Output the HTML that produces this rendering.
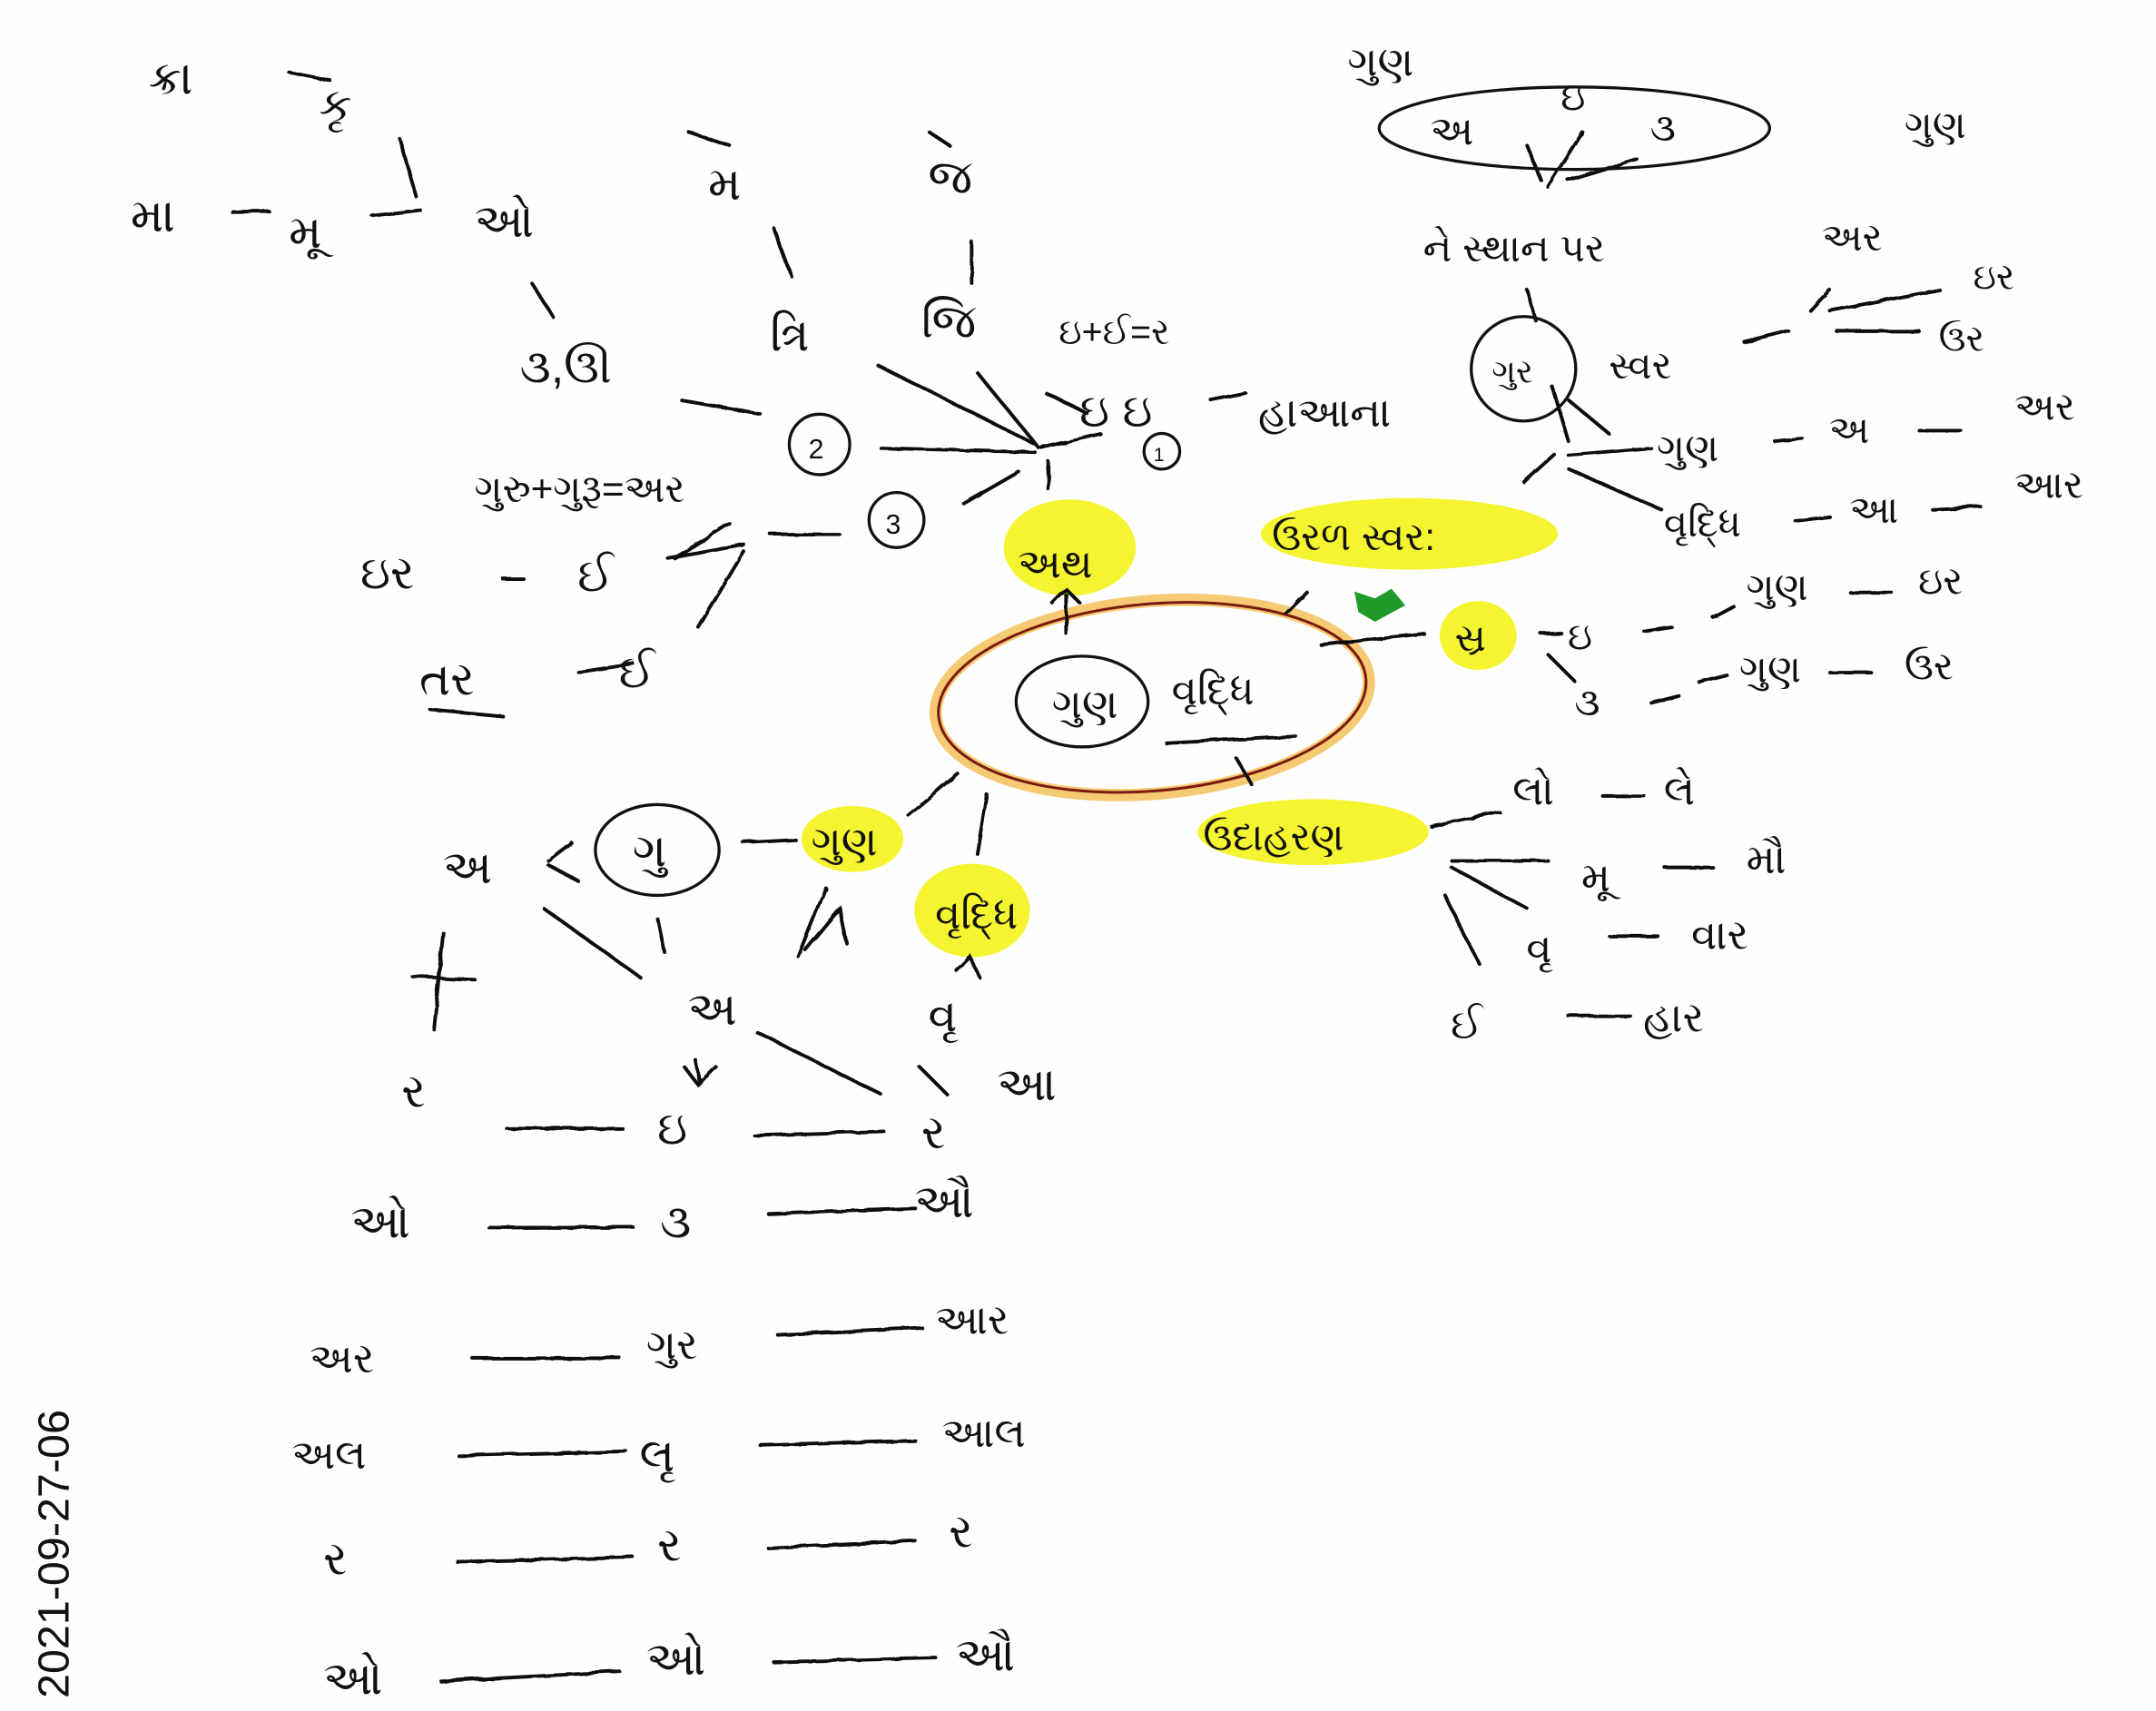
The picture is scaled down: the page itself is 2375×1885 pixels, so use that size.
<!DOCTYPE html>
<html><head><meta charset="utf-8">
<style>
html,body{margin:0;padding:0;background:#fff;}
svg{display:block;}
text{font-family:"Liberation Sans","DejaVu Sans",sans-serif;fill:#111;}
</style></head>
<body>
<svg width="2375" height="1885" viewBox="0 0 1568 1244" xmlns="http://www.w3.org/2000/svg">
<defs>
<filter id="rough"><feTurbulence baseFrequency="0.04" numOctaves="2" result="n"/><feDisplacementMap in="SourceGraphic" in2="n" scale="2.5"/></filter>
</defs>
<rect width="1568" height="1244" fill="#fefefe"/>
<g fill="#f3f31a" opacity="0.9">
<ellipse cx="778" cy="398" rx="48" ry="35"/>
<ellipse cx="1025" cy="388" rx="108" ry="26"/>
<ellipse cx="1075" cy="462" rx="28" ry="25"/>
<ellipse cx="620" cy="610" rx="37" ry="24"/>
<ellipse cx="707" cy="662" rx="42" ry="34"/>
<ellipse cx="955" cy="605" rx="84" ry="24"/>
</g>
<path d="M985 430 L1000 435 L1012 428 L1022 440 L1000 452 L988 445 Z" fill="#1f9a2a"/>
<g fill="none">
<ellipse cx="838" cy="507" rx="158" ry="70" transform="rotate(-5 838 507)" stroke="#f2b437" stroke-width="9" opacity="0.7"/>
<ellipse cx="838" cy="507" rx="156" ry="68" transform="rotate(-5 838 507)" stroke="#7a1a10" stroke-width="2"/>
</g>
<g stroke="#111" stroke-width="2.6" fill="none" stroke-linecap="round" filter="url(#rough)">
<path d="M210 52 L240 58"/><path d="M168 153 L195 153"/><path d="M290 100 L302 142"/><path d="M270 156 L305 152"/>
<path d="M386 205 L402 230"/><path d="M495 290 L552 300"/><path d="M640 325 L752 328"/>
<path d="M500 95 L530 105"/><path d="M562 165 L575 200"/><path d="M675 95 L690 105"/><path d="M706 175 L706 205"/>
<path d="M638 265 L752 322"/><path d="M710 270 L755 325"/><path d="M760 285 L790 300"/><path d="M757 325 L800 315"/>
<path d="M700 365 L740 342"/><path d="M762 355 L762 335"/><path d="M880 290 L905 285"/>
<path d="M530 380 L490 405"/><path d="M560 388 L610 388"/><path d="M485 405 L540 395"/><path d="M540 400 L507 455"/>
<path d="M420 488 L460 482"/><path d="M365 420 L380 420"/><path d="M312 515 L365 520"/>
<path d="M775 460 L775 432"/><path d="M765 438 L775 428 L785 438"/>
<path d="M935 445 L950 430"/><path d="M960 468 L1035 460"/><path d="M848 540 L942 535"/><path d="M898 550 L910 570"/>
<path d="M696 562 L660 592"/><path d="M717 577 L710 620"/><path d="M540 612 L578 610"/><path d="M1040 600 L1090 590"/>
<path d="M1110 210 L1116 232"/><path d="M1128 280 L1140 320"/><path d="M1108 350 L1130 330"/><path d="M1140 290 L1170 315"/>
<path d="M1140 340 L1208 370"/><path d="M1140 330 L1200 325"/><path d="M1110 105 L1120 130"/><path d="M1125 135 L1150 95"/><path d="M1140 130 L1190 115"/>
<path d="M1268 248 L1300 240"/><path d="M1316 225 L1330 210"/><path d="M1330 225 L1410 210"/><path d="M1335 240 L1395 240"/>
<path d="M1290 320 L1310 318"/><path d="M1395 312 L1425 312"/><path d="M1305 378 L1330 375"/><path d="M1405 370 L1440 368"/>
<path d="M1120 460 L1135 460"/><path d="M1195 458 L1215 455"/><path d="M1245 448 L1260 440"/><path d="M1345 430 L1375 430"/>
<path d="M1125 475 L1145 495"/><path d="M1200 510 L1220 505"/><path d="M1235 495 L1255 490"/><path d="M1330 488 L1360 488"/>
<path d="M1165 578 L1195 578"/><path d="M1055 625 L1125 625"/><path d="M1055 630 L1110 660"/><path d="M1050 650 L1075 700"/>
<path d="M1210 630 L1245 630"/><path d="M1170 680 L1205 680"/><path d="M1140 738 L1185 738"/>
<path d="M600 645 L580 695"/><path d="M585 690 L610 660 L615 685"/>
<path d="M695 705 L705 695 L712 710"/><path d="M398 625 L415 612"/><path d="M398 628 L420 640"/><path d="M395 660 L465 710"/><path d="M478 668 L483 692"/>
<path d="M322 678 L315 748"/><path d="M300 710 L345 712"/><path d="M550 750 L640 795"/><path d="M505 770 L508 785"/><path d="M497 775 L507 788 L520 775"/>
<path d="M368 820 L452 820"/><path d="M548 825 L642 822"/><path d="M668 775 L688 795"/>
<path d="M355 892 L460 892"/><path d="M558 882 L665 878"/>
<path d="M343 987 L450 987"/><path d="M565 970 L670 965"/>
<path d="M333 1058 L455 1055"/><path d="M552 1050 L665 1047"/>
<path d="M332 1135 L460 1132"/><path d="M558 1125 L665 1120"/>
<path d="M320 1222 L450 1215"/><path d="M562 1208 L680 1205"/>
</g>
<g stroke="#111" stroke-width="2.2" fill="none">
<circle cx="596" cy="323" r="22"/><circle cx="652" cy="378" r="20"/><circle cx="845" cy="328" r="13"/>
<ellipse cx="787" cy="510" rx="48" ry="33"/><ellipse cx="478" cy="618" rx="45" ry="33"/>
<circle cx="1108" cy="268" r="38"/>
<ellipse cx="1145" cy="93" rx="142" ry="30"/>
</g>
<g font-size="34">
<text x="108" y="68">ક્રા</text><text x="232" y="88">કૃ</text>
<text x="95" y="168">મા</text><text x="210" y="180">મૂ</text><text x="345" y="172">ઓ</text>
<text x="378" y="278">૩,ઊ</text><text x="588" y="333" font-size="20">2</text><text x="644" y="388" font-size="20">3</text><text x="839" y="335" font-size="14">1</text>
<text x="515" y="145">મ</text><text x="675" y="140">જ</text><text x="560" y="255">ત્રિ</text><text x="670" y="245">જિ</text>
<text x="770" y="250" font-size="26">ઇ+ઈ=ર</text><text x="785" y="310">ઇ ઇ</text><text x="915" y="310" font-size="30">હાઆના</text>
<text x="345" y="365" font-size="28">ગુરુ+ગુરૂ=અર</text>
<text x="262" y="428">ઇર</text><text x="420" y="430">ઈ</text><text x="305" y="505">તર</text><text x="450" y="500">ઈ</text>
<text x="740" y="420" font-size="30">અથ</text><text x="925" y="400" font-size="28">ઉરળ સ્વર:</text>
<text x="1058" y="473" font-size="28">સ્ર</text><text x="1140" y="472" font-size="28">ઇ</text><text x="1145" y="520" font-size="28">૩</text>
<text x="1270" y="436" font-size="28">ગુણ</text><text x="1395" y="432" font-size="28">ઇર</text>
<text x="1265" y="496" font-size="28">ગુણ</text><text x="1385" y="494" font-size="28">ઉર</text>
<text x="765" y="522" font-size="30">ગુણ</text><text x="852" y="512" font-size="30">વૃદ્ધિ</text>
<text x="590" y="622" font-size="30">ગુણ</text><text x="680" y="675" font-size="30">વૃદ્ધિ</text><text x="875" y="618" font-size="28">ઉદાહરણ</text>
<text x="460" y="630">ગુ</text><text x="322" y="642">અ</text>
<text x="500" y="745">અ</text><text x="675" y="750">વૃ</text><text x="725" y="800">આ</text>
<text x="292" y="805">ર</text><text x="478" y="832">ઇ</text><text x="670" y="835">ર</text>
<text x="255" y="900">ઓ</text><text x="480" y="900">૩</text><text x="665" y="885">ઔ</text>
<text x="225" y="998" font-size="30">અર</text><text x="470" y="988" font-size="30">ગુર</text><text x="680" y="970" font-size="30">આર</text>
<text x="212" y="1068" font-size="30">અલ</text><text x="465" y="1070">લૃ</text><text x="685" y="1052" font-size="30">આલ</text>
<text x="235" y="1145">ર</text><text x="478" y="1135">ર</text><text x="690" y="1125">ર</text>
<text x="235" y="1232">ઓ</text><text x="470" y="1218">ઓ</text><text x="695" y="1215">ઔ</text>
<text x="980" y="55" font-size="30">ગુણ</text><text x="1040" y="105" font-size="30">અ</text><text x="1135" y="80" font-size="28">ઇ</text><text x="1200" y="102" font-size="28">૩</text>
<text x="1035" y="190" font-size="28">ને સ્થાન પર</text><text x="1385" y="100" font-size="28">ગુણ</text>
<text x="1325" y="182" font-size="28">અર</text><text x="1435" y="210" font-size="26">ઇર</text><text x="1410" y="255" font-size="26">ઉર</text>
<text x="1085" y="278" font-size="24">ગુર</text><text x="1170" y="275" font-size="28">સ્વર</text>
<text x="1205" y="335" font-size="28">ગુણ</text><text x="1330" y="322" font-size="28">અ</text><text x="1465" y="305" font-size="28">અર</text>
<text x="1210" y="390" font-size="28">વૃદ્ધિ</text><text x="1345" y="380" font-size="28">આ</text><text x="1465" y="362" font-size="28">આર</text>
<text x="1100" y="585" font-size="30">લો</text><text x="1210" y="585" font-size="30">લે</text>
<text x="1150" y="648" font-size="30">મૂ</text><text x="1270" y="635" font-size="30">મૌ</text>
<text x="1110" y="700" font-size="30">વૃ</text><text x="1230" y="690" font-size="30">વાર</text>
<text x="1055" y="755" font-size="30">ઈ</text><text x="1195" y="750" font-size="30">હાર</text>
<text x="0" y="0" font-size="32" transform="translate(50,1235) rotate(-90)">2021-09-27-06</text>
</g>
</svg>
</body></html>
